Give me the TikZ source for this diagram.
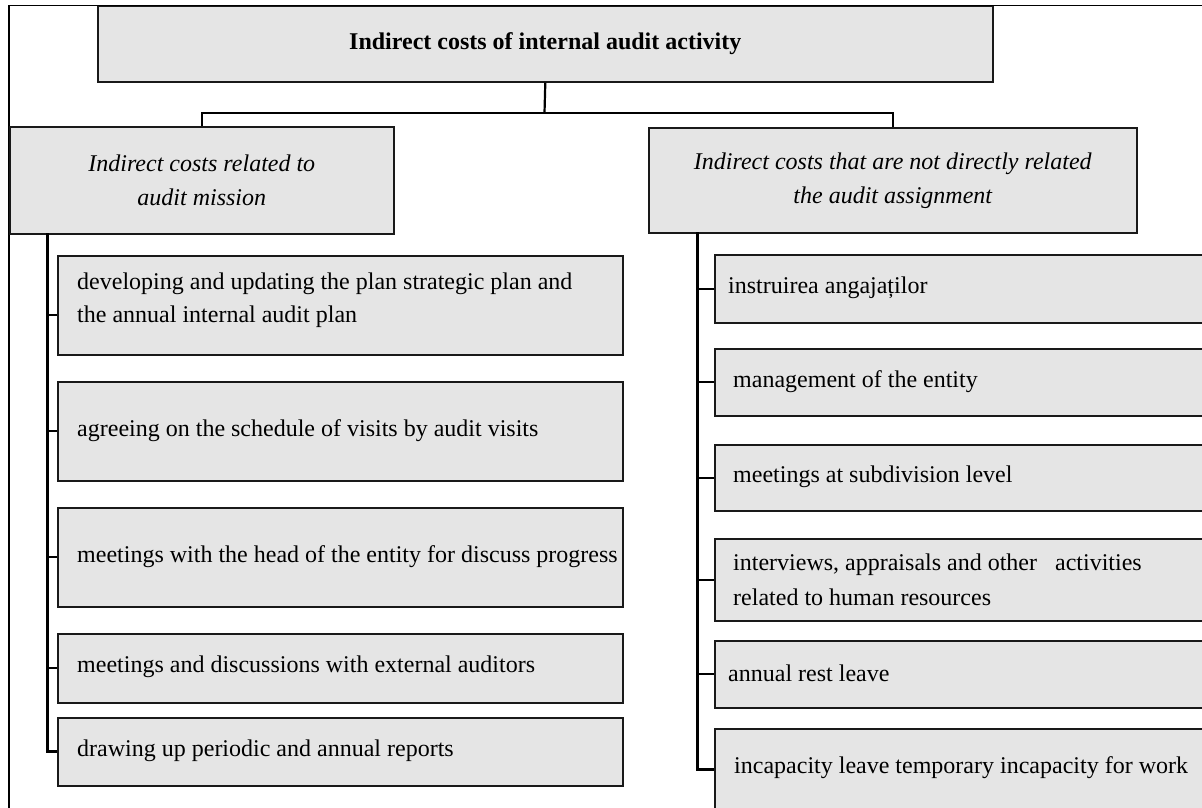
\documentclass[tikz,border=0pt]{standalone}
\usepackage{fontspec}
\setmainfont{Liberation Serif}
\begin{document}
\begin{tikzpicture}[x=1pt,y=-1pt,
  box/.style={draw=black!90, fill=gray!20, line width=1.6pt, inner sep=0pt, anchor=north west},
  txt/.style={anchor=west, inner sep=0pt, align=left, font=\fontsize{24}{33.5}\selectfont},
  midtxt/.style={align=center, font=\fontsize{24}{34}\selectfont\itshape},
  link/.style={line width=2.2pt, draw=black},
  trunk/.style={line width=3pt, draw=black},
  frame/.style={line width=1.6pt, draw=black}]
\useasboundingbox (0,0) rectangle (1202,807);
\clip (0,0) rectangle (1202,807);
\fill[white] (0,0) rectangle (1202,807);
% outer frame
\coordinate (fr1) at (1210,5.5);
\coordinate (fr2) at (9,5.5);
\coordinate (fr3) at (9,815);
\draw[frame] (fr1) -- (fr2) -- (fr3);
% top box
\node[box, minimum width=895pt, minimum height=75.5pt, font=\fontsize{24}{34}\selectfont\bfseries] (top) at (97,5.5) {Indirect costs of internal audit activity};
% middle boxes
\node[box, minimum width=384pt, minimum height=107pt, midtxt] (L) at (9,126) {Indirect costs related to\\audit mission};
\node[box, minimum width=488pt, minimum height=105pt, midtxt] (R) at (648,127) {Indirect costs that are not directly related\\the audit assignment};
\coordinate (bus) at (544.5,113);
\draw[link] (top.south) -- (bus);
\draw[link] (L.north) |- (bus) -| (R.north);
% left children
\node[box, minimum width=565pt, minimum height=99pt] (c1) at (57,255) {};
\node[box, minimum width=565pt, minimum height=99pt] (c2) at (57,381) {};
\node[box, minimum width=565pt, minimum height=99pt] (c3) at (57,507) {};
\node[box, minimum width=565pt, minimum height=69pt] (c4) at (57,633) {};
\node[box, minimum width=565pt, minimum height=68pt] (c5) at (57,717) {};
\node[txt] (c1t) at (77,300) {developing and updating the plan strategic plan and\\the annual internal audit plan};
\node[txt] (c2t) at (77,431) {agreeing on the schedule of visits by audit visits};
\node[txt] (c3t) at (77,557) {meetings with the head of the entity for discuss progress};
\node[txt] (c4t) at (77,667) {meetings and discussions with external auditors};
\node[txt] (c5t) at (77,751) {drawing up periodic and annual reports};
\coordinate (Lt) at (47,233);
\draw[trunk] (Lt) |- (c5.west);
\draw[link] (Lt |- c1.west) ++(0,9.5) -- ([yshift=-9.5pt]c1.west);
\draw[link] (Lt |- c2.west) -- (c2.west);
\draw[link] (Lt |- c3.west) -- (c3.west);
\draw[link] (Lt |- c4.west) -- (c4.west);
% right children
\node[box, minimum width=506pt, minimum height=68pt] (r1) at (714,254) {};
\node[box, minimum width=506pt, minimum height=67pt] (r2) at (714,348) {};
\node[box, minimum width=506pt, minimum height=66pt] (r3) at (714,444) {};
\node[box, minimum width=506pt, minimum height=82pt] (r4) at (714,538) {};
\node[box, minimum width=506pt, minimum height=67pt] (r5) at (714,640) {};
\node[box, minimum width=506pt, minimum height=81pt] (r6) at (714,728) {};
\node[txt] (r1t) at (728,288) {instruirea angajaților};
\node[txt] (r2t) at (733,382) {management of the entity};
\node[txt] (r3t) at (733,477) {meetings at subdivision level};
\node[txt, font=\fontsize{24}{35}\selectfont] (r4t) at (733,580) {interviews, appraisals and other \ \ activities\\related to human resources};
\node[txt] (r5t) at (728,673) {annual rest leave};
\node[txt] (r6t) at (734,768) {incapacity leave temporary incapacity for work};
\coordinate (Rt) at (697,232);
\draw[trunk] (Rt) |- (r6.west);
\draw[link] (Rt |- r1.west) -- (r1.west);
\draw[link] (Rt |- r2.west) -- (r2.west);
\draw[link] (Rt |- r3.west) -- (r3.west);
\draw[link] (Rt |- r4.west) -- (r4.west);
\draw[link] (Rt |- r5.west) -- (r5.west);
\end{tikzpicture}
\end{document}
